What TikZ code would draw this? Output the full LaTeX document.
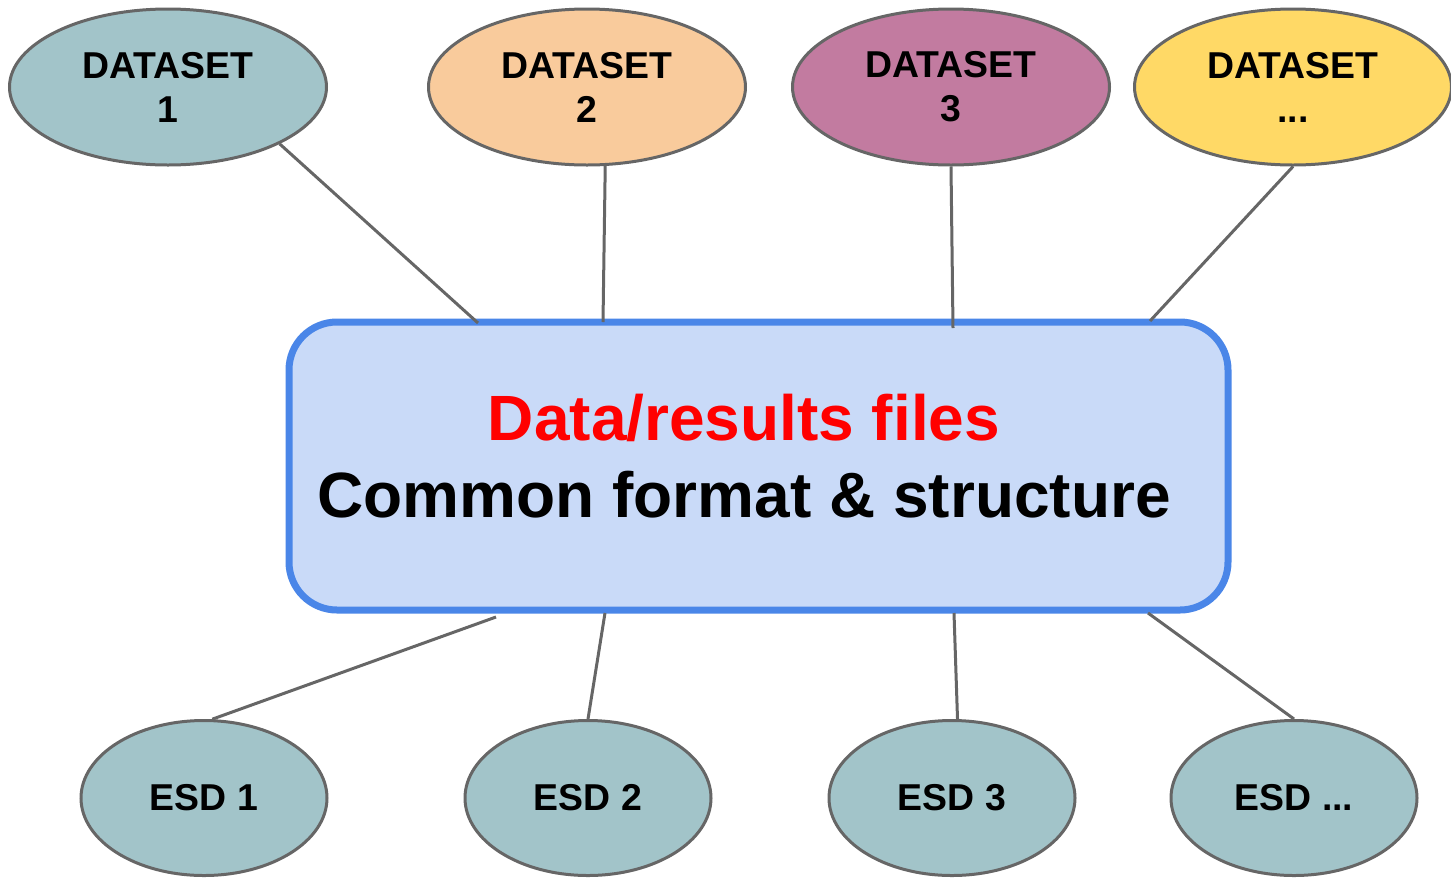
\documentclass[tikz,border=0pt]{standalone}
\usepackage{fontspec}
\setmainfont{Liberation Sans}
\usetikzlibrary{shapes.geometric}
\definecolor{tealgray}{HTML}{A2C4C9}
\definecolor{peach}{HTML}{F9CB9C}
\definecolor{mauve}{HTML}{C27BA0}
\definecolor{sun}{HTML}{FFD966}
\definecolor{boxfill}{HTML}{C9DAF8}
\definecolor{boxline}{HTML}{4A86E8}
\definecolor{outline}{HTML}{666666}
\definecolor{hotred}{HTML}{FF0000}
\tikzset{
  dataset/.style={ellipse, draw=outline, line width=1.5pt, inner sep=0pt,
    minimum width=158.5pt, minimum height=78pt, align=center,
    font=\fontsize{18.7}{22}\selectfont\bfseries},
  esd/.style={ellipse, draw=outline, fill=tealgray, line width=1.5pt, inner sep=0pt,
    minimum width=123pt, minimum height=77.5pt,
    font=\fontsize{18.7}{22}\selectfont\bfseries},
  hub/.style={rectangle, rounded corners=24pt, draw=boxline, fill=boxfill,
    line width=3.5pt, minimum width=469.5pt, minimum height=144pt, inner sep=0pt},
  bigtext/.style={font=\fontsize{32}{38}\selectfont\bfseries, inner sep=0pt, anchor=base},
  link/.style={draw=outline, line width=1.5pt}
}
\begin{document}
\begin{tikzpicture}[x=0.5pt, y=-0.5pt]
\useasboundingbox (0,0) rectangle (1451,879);

% central box
\node[hub] (box) at (758.5,466) {};
\node[bigtext, text=hotred] (title) at (744,440) {Data/results files};
\node[bigtext] (subtitle) at (744,517) {Common format \& structure};

% source datasets
\node[dataset, fill=tealgray] (d1) at (168,87) {DATASET\\1};
\node[dataset, fill=peach] (d2) at (587,87) {DATASET\\2};
\node[dataset, fill=mauve] (d3) at (951,87) {DATASET\\3};
\node[dataset, fill=sun] (d4) at (1293,87) {DATASET\\...};

% ESD outputs
\node[esd] (e1) at (204,798) {ESD 1};
\node[esd] (e2) at (588,798) {ESD 2};
\node[esd] (e3) at (952,798) {ESD 3};
\node[esd] (e4) at (1294,798) {ESD ...};

% attachment points on the box border
\coordinate (t1) at (478,323);
\coordinate (t2) at (603,322);
\coordinate (t3) at (953,328);
\coordinate (t4) at (1150,321);
\coordinate (b1) at (496,617);
\coordinate (b2) at (605,613);
\coordinate (b3) at (954,613);
\coordinate (b4) at (1148,613);

% connectors
\draw[link] (d1.-27) -- (t1);
\draw[link] (d2.-77) -- (t2);
\draw[link] (d3.south) -- (t3);
\draw[link] (d4.south) -- (t4);
\draw[link] (e1.84) -- (b1);
\draw[link] (e2.north) -- (b2);
\draw[link] (e3.86) -- (b3);
\draw[link] (e4.north) -- (b4);
\end{tikzpicture}
\end{document}
